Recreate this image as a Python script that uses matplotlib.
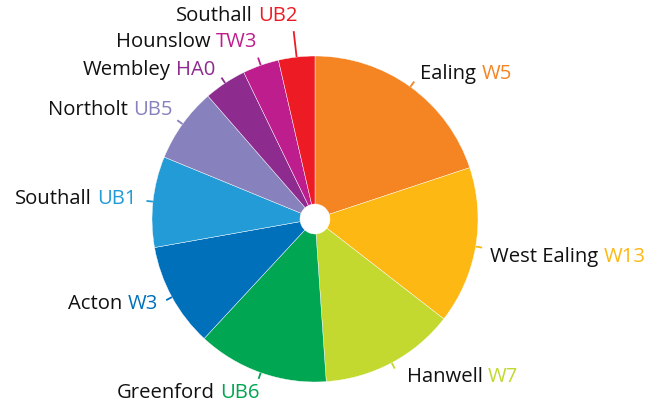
import numpy as np
import matplotlib
matplotlib.use("Agg")
import matplotlib.pyplot as plt
from matplotlib.offsetbox import TextArea, HPacker, AnnotationBbox

# ---- data (share of pie) ----
areas = ["Ealing", "West Ealing", "Hanwell", "Greenford", "Acton",
         "Southall", "Northolt", "Wembley", "Hounslow", "Southall"]
codes = ["W5", "W13", "W7", "UB6", "W3", "UB1", "UB5", "HA0", "TW3", "UB2"]
values = [19.9, 15.6, 13.4, 13.0, 10.3, 9.0, 7.4, 4.2, 3.6, 3.6]
colors = ["#F58423", "#FDB813", "#C3D92F", "#00A651", "#0070BB",
          "#229BD6", "#8781BD", "#8D2B8F", "#BE1E8D", "#ED1C24"]

# ---- label layout (style) ----
leader_len = [0.04, 0.04, 0.04, 0.04, 0.04, 0.04, 0.04, 0.04, 0.05, 0.16]
label_off = [(6, 8), (8, -9.5), (12, -8), (1, -14), (-8, -4),
             (-9.5, 1.5), (-4.5, 10), (-6, 8), (-1, 16), (4, 15)]  # pixels
label_ha = ["left", "left", "left", "right", "right",
            "right", "right", "right", "right", "right"]

W, H, DPI = 663, 408, 100
fig = plt.figure(figsize=(W / DPI, H / DPI), dpi=DPI)
ax = fig.add_axes([0, 0, 1, 1])

R_PX = 163.0
CX, CY = 315.0, 219.0
hole = 15.0 / R_PX

wedges, _ = ax.pie(values, colors=colors, startangle=90, counterclock=False,
                   radius=1.0, center=(0, 0),
                   wedgeprops=dict(width=1 - hole, edgecolor="white", linewidth=0.3))

ax.set_xlim(-CX / R_PX, (W - CX) / R_PX)
ax.set_ylim((CY - H) / R_PX, CY / R_PX)
ax.set_aspect("auto")
ax.axis("off")

fs = 14.6
fam = "Open Sans"
wt = 500
px2pt = 72.0 / DPI

for w, name, code, col, ll, off, ha in zip(wedges, areas, codes, colors,
                                           leader_len, label_off, label_ha):
    th = np.deg2rad((w.theta1 + w.theta2) / 2.0)
    d = np.array([np.cos(th), np.sin(th)])
    p0 = d * 1.0
    p1 = d * (1.0 + ll)
    ax.plot([p0[0], p1[0]], [p0[1], p1[1]], color=col, lw=1.3,
            solid_capstyle="butt", zorder=1)
    t1 = TextArea(name, textprops=dict(color="#111111", fontsize=fs, family=fam, weight=wt))
    t2 = TextArea(code, textprops=dict(color=col, fontsize=fs, family=fam, weight=wt))
    box = HPacker(children=[t1, t2], align="baseline", pad=0, sep=3.8)
    ab = AnnotationBbox(box, tuple(p1), xybox=(off[0] * px2pt, off[1] * px2pt),
                        xycoords="data", boxcoords="offset points",
                        box_alignment=(0.0 if ha == "left" else 1.0, 0.5),
                        frameon=False, pad=0)
    ax.add_artist(ab)

fig.savefig("out.png", dpi=DPI, facecolor="white")
